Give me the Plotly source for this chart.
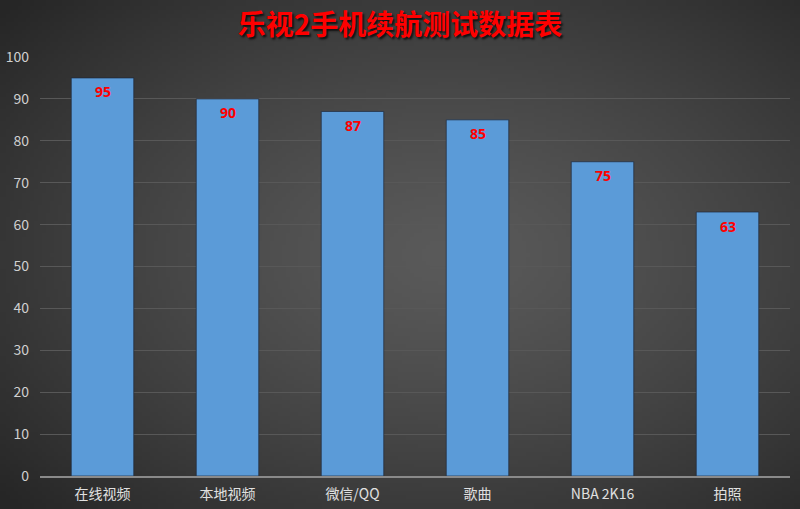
import numpy as np, zlib, struct, base64
import plotly.graph_objects as go

categories = ["在线视频", "本地视频", "微信/QQ", "歌曲", "NBA 2K16", "拍照"]
values = [95, 90, 87, 85, 75, 63]
y_ticks = [0, 10, 20, 30, 40, 50, 60, 70, 80, 90, 100]
title_text = "乐视2手机续航测试数据表"

# radial gradient background image
W, H = 200, 128
yy, xx = np.mgrid[0:H, 0:W]
dx = (xx / (W - 1) - 0.56) / 0.62
dy = (yy / (H - 1) - 0.50) / 0.62
r = np.clip(np.sqrt(dx ** 2 + dy ** 2), 0, 1.2) / 1.2
v = (90 - (90 - 38) * r ** 1.3).astype(np.uint8)
raw = b"".join(b"\x00" + bytes(np.stack([v[i], v[i], v[i]], axis=1).flatten()) for i in range(H))
def chunk(t, d):
    c = struct.pack(">I", len(d)) + t + d
    return c + struct.pack(">I", zlib.crc32(t + d) & 0xffffffff)
png = b"\x89PNG\r\n\x1a\n" + chunk(b"IHDR", struct.pack(">IIBBBBB", W, H, 8, 2, 0, 0, 0)) + \
      chunk(b"IDAT", zlib.compress(raw, 9)) + chunk(b"IEND", b"")
uri = "data:image/png;base64," + base64.b64encode(png).decode()

L, R, T, B = 40, 10, 57, 33
FW, FH = 800, 509
pw, ph = FW - L - R, FH - T - B

fig = go.Figure()
fig.add_trace(go.Bar(
    x=categories, y=values,
    marker=dict(color="#5b9bd8", line=dict(color="rgba(30,40,60,0.7)", width=1)),
    hoverinfo="x+y",
))
for c, v_ in zip(categories, values):
    fig.add_annotation(x=c, y=v_, text=f"<b>{v_}</b>", showarrow=False, yshift=-14,
                       font=dict(color="#ff0000", size=14, family="Noto Sans, Noto Sans CJK SC"))

fig.update_layout(
    width=FW, height=FH,
    margin=dict(l=L, r=R, t=T, b=B, autoexpand=False),
    paper_bgcolor="#333333", plot_bgcolor="rgba(0,0,0,0)",
    bargap=0.5, showlegend=False,
    images=[dict(source=uri, xref="paper", yref="paper", x=-L / pw, y=1 + T / ph,
                 sizex=FW / pw, sizey=FH / ph, sizing="stretch", layer="below", xanchor="left", yanchor="top")],
    title=dict(text=f"<b>{title_text}</b>", x=0.5, xref="container", xanchor="center", y=1 - 25 / FH, yanchor="middle",
               font=dict(color="#ff0000", size=28, family="Noto Sans CJK SC", shadow="2px 2px 2px #111")),
    font=dict(family="Noto Sans CJK SC, Noto Sans", color="#d9d9d9", size=14),
)
fig.update_xaxes(showgrid=False, showline=True, linecolor="#8a8a8a", linewidth=1.5, ticks="",
                 tickfont=dict(size=14, color="#e0e0e0"), ticklabelstandoff=4, automargin=False)
fig.update_yaxes(range=[0, 100], tickvals=y_ticks, showgrid=True, gridcolor="#585858", gridwidth=1,
                 zeroline=False, showline=False, tickfont=dict(size=14, color="#d0d0d0"),
                 ticklabelstandoff=10, automargin=False)
fig.write_html("out.html", config={"displayModeBar": False},
               post_script="document.body.style.margin='0';document.body.style.overflow='hidden';")
